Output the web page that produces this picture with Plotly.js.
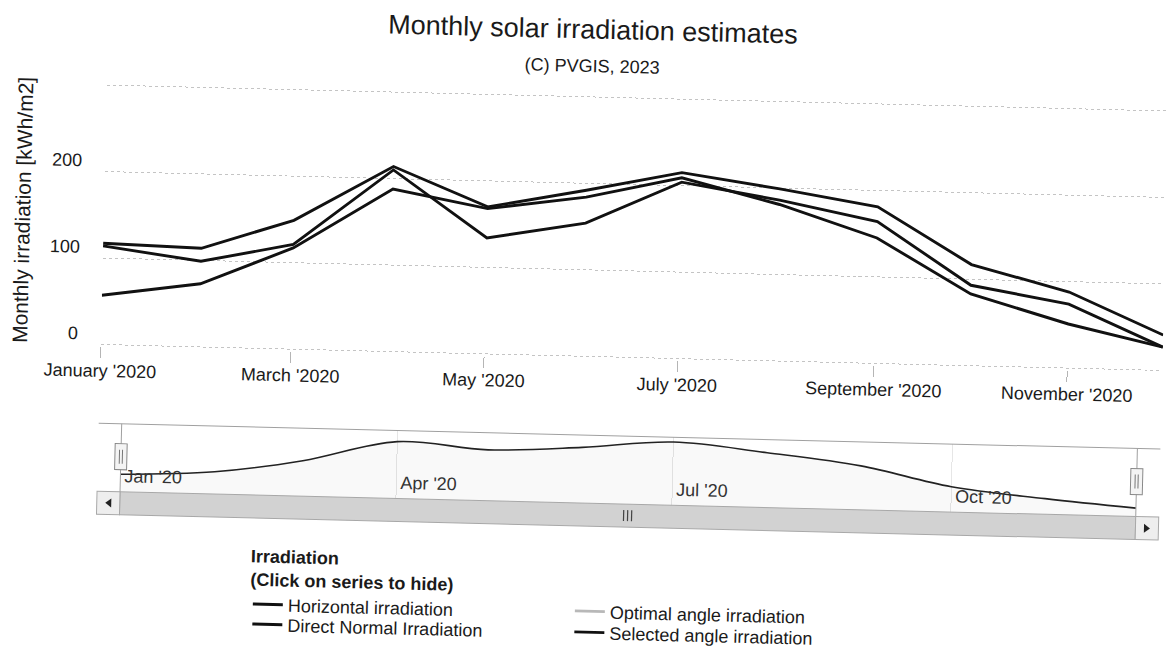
<!DOCTYPE html>
<html>
<head>
<meta charset="utf-8">
<script src="https://cdn.plot.ly/plotly-3.0.1.min.js"></script>
<style>
  html, body { margin:0; padding:0; background:#ffffff; overflow:hidden; }
  #chart { width:1169px; height:671px; transform: rotate(1.4deg); transform-origin: 584px 335px; }
</style>
</head>
<body>
<div id="chart"></div>
<script>
// ---- data ----
const months = ['2020-01-01','2020-02-01','2020-03-01','2020-04-01','2020-05-01','2020-06-01',
                '2020-07-01','2020-08-01','2020-09-01','2020-10-01','2020-11-01','2020-12-01'];
const horizontalIrradiation   = [57, 73, 117, 188, 168, 184, 209, 181, 145, 83, 51, 27];
const directNormalIrradiation = [114, 99, 121, 210, 134, 154, 204, 186, 164, 93, 74, 27];
const optimalAngleIrradiation = [null, null, null, null, null, null, null, null, null, null, null, null];
const selectedAngleIrradiation= [117, 114, 149, 214, 170, 192, 215, 199, 181, 117, 88, 41];
const yTickVals = [0, 100, 200, 300];
const yTickText = ['0', '100', '200', ''];
const seriesNames = ['Horizontal irradiation', 'Direct Normal Irradiation', 'Optimal angle irradiation', 'Selected angle irradiation'];
const legendTitle = '<b>Irradiation</b><br><b>(Click on series to hide)</b>';

// ---- geometry helpers (pixel -> paper) ----
const W = 1169, H = 671;
const px = x => x / W;
const py = y => 1 - y / H;

const lineStyle = {color:'#111111', width:2.9};

const traces = [
  {x: months, y: horizontalIrradiation, name: seriesNames[0], type:'scatter', mode:'lines', line: lineStyle, legend:'legend', xaxis:'x', yaxis:'y'},
  {x: months, y: directNormalIrradiation, name: seriesNames[1], type:'scatter', mode:'lines', line: lineStyle, legend:'legend2', xaxis:'x', yaxis:'y'},
  {x: months, y: optimalAngleIrradiation, name: seriesNames[2], type:'scatter', mode:'lines', line: {color:'#b8b8b8', width:2.8}, legend:'legend3', xaxis:'x', yaxis:'y'},
  {x: months, y: selectedAngleIrradiation, name: seriesNames[3], type:'scatter', mode:'lines', line: lineStyle, legend:'legend4', xaxis:'x', yaxis:'y'},
  // navigator series
  {x: months, y: horizontalIrradiation, type:'scatter', mode:'lines', line:{color:'#222222', width:1.6, shape:'spline', smoothing:1},
   fill:'tozeroy', fillcolor:'rgba(0,0,0,0.025)', showlegend:false, xaxis:'x2', yaxis:'y2', hoverinfo:'skip'}
];

function pathStr(points){
  return 'M' + points.map(p => px(p[0]) + ',' + py(p[1])).join(' L') + ' Z';
}

const grey = '#a0a0a0';
const shapes = [
  // outline
  {type:'line', xref:'paper', yref:'paper', x0:px(101), x1:px(1163), y0:py(435), y1:py(435), line:{color:grey, width:1}},
  {type:'line', xref:'paper', yref:'paper', x0:px(124), x1:px(124), y0:py(435), y1:py(503), line:{color:grey, width:1}},
  {type:'line', xref:'paper', yref:'paper', x0:px(1140), x1:px(1140), y0:py(435), y1:py(503), line:{color:grey, width:1}},
  // handles
  {type:'rect', xref:'paper', yref:'paper', x0:px(118), x1:px(130), y0:py(481), y1:py(455), fillcolor:'#f4f4f4', line:{color:'#888888', width:1}},
  {type:'line', xref:'paper', yref:'paper', x0:px(122.5), x1:px(122.5), y0:py(475), y1:py(461), line:{color:'#777777', width:1}},
  {type:'line', xref:'paper', yref:'paper', x0:px(125.5), x1:px(125.5), y0:py(475), y1:py(461), line:{color:'#777777', width:1}},
  {type:'rect', xref:'paper', yref:'paper', x0:px(1134), x1:px(1146), y0:py(481), y1:py(455), fillcolor:'#f4f4f4', line:{color:'#888888', width:1}},
  {type:'line', xref:'paper', yref:'paper', x0:px(1138.5), x1:px(1138.5), y0:py(475), y1:py(461), line:{color:'#777777', width:1}},
  {type:'line', xref:'paper', yref:'paper', x0:px(1141.5), x1:px(1141.5), y0:py(475), y1:py(461), line:{color:'#777777', width:1}},
  // scrollbar thumb + buttons
  {type:'rect', xref:'paper', yref:'paper', x0:px(124), x1:px(1140), y0:py(526), y1:py(503), fillcolor:'#d2d2d2', line:{color:'#a8a8a8', width:1}},
  {type:'rect', xref:'paper', yref:'paper', x0:px(101), x1:px(124), y0:py(526), y1:py(503), fillcolor:'#eeeeee', line:{color:'#a8a8a8', width:1}},
  {type:'rect', xref:'paper', yref:'paper', x0:px(1140), x1:px(1163), y0:py(526), y1:py(503), fillcolor:'#eeeeee', line:{color:'#a8a8a8', width:1}},
  {type:'path', xref:'paper', yref:'paper', path: pathStr([[115.5,510],[109.5,514.5],[115.5,519]]), fillcolor:'#222222', line:{width:0}},
  {type:'path', xref:'paper', yref:'paper', path: pathStr([[1148.5,510],[1154.5,514.5],[1148.5,519]]), fillcolor:'#222222', line:{width:0}},
  // grip
  {type:'line', xref:'paper', yref:'paper', x0:px(628), x1:px(628), y0:py(520), y1:py(509), line:{color:'#444444', width:1.2}},
  {type:'line', xref:'paper', yref:'paper', x0:px(632), x1:px(632), y0:py(520), y1:py(509), line:{color:'#444444', width:1.2}},
  {type:'line', xref:'paper', yref:'paper', x0:px(636), x1:px(636), y0:py(520), y1:py(509), line:{color:'#444444', width:1.2}}
];

const fontFamily = 'Liberation Sans, Arial, Helvetica, sans-serif';
const legendFont = {size:18, color:'#1a1a1a'};
function legendAt(x, y, extra){
  return Object.assign({x:px(x), y:py(y), xanchor:'left', yanchor:'top', orientation:'v', bgcolor:'rgba(0,0,0,0)',
                        font:legendFont, tracegroupgap:0}, extra || {});
}

const layout = {
  width: W, height: H,
  margin: {l:0, r:0, t:0, b:0},
  paper_bgcolor: '#ffffff', plot_bgcolor: 'rgba(0,0,0,0)',
  font: {family: fontFamily, color: '#1a1a1a'},
  title: {text: 'Monthly solar irradiation estimates', font: {size: 27, color: '#1a1a1a'},
          x: px(585.5), xanchor: 'center', xref: 'paper', y: py(29), yanchor: 'middle', yref: 'container'},
  xaxis: {type:'date', domain:[px(101), px(1163)], range:[months[0], months[11]], anchor:'y',
          tickformat:"%B '%Y", dtick:'M2', tick0: months[0],
          ticks:'outside', ticklen:11, tickcolor:'#b5b5b5', tickwidth:1,
          showgrid:false, showline:false, zeroline:false, tickfont:{size:18, color:'#1a1a1a'},
          ticklabelstandoff: -3, fixedrange:true},
  yaxis: {domain:[py(358.03), py(95.07)], range:[-2, 302], anchor:'x',
          tickmode:'array', tickvals: yTickVals, ticktext: yTickText,
          showgrid:true, gridcolor:'#c4c4c4', griddash:'dot', gridwidth:1, zeroline:false, showline:false,
          ticks:'', tickfont:{size:18, color:'#1a1a1a'}, ticklabelstandoff: 22, ticklabelshift: -11, fixedrange:true},
  xaxis2: {type:'date', domain:[px(124), px(1140)], range:[months[0], months[11]], anchor:'y2',
           tickformat:"%b '%y", dtick:'M3', tick0: months[0], ticklabelposition:'inside right', ticklabelshift: 4,
           ticks:'', showgrid:true, gridcolor:'#e6e6e6', showline:false, zeroline:false,
           tickfont:{size:18, color:'#333333'}, fixedrange:true},
  yaxis2: {domain:[py(503), py(435)], range:[-1, 225], anchor:'x2', showgrid:false, zeroline:false,
           showticklabels:false, ticks:'', fixedrange:true},
  annotations: [
    {text:'(C) PVGIS, 2023', xref:'paper', yref:'paper', x:px(585.4), y:py(66), xanchor:'center', yanchor:'middle',
     showarrow:false, font:{size:18, color:'#1a1a1a'}},
    {text:'Monthly irradiation [kWh/m2]', xref:'paper', yref:'paper', x:px(20), y:py(223.7), xanchor:'center', yanchor:'middle',
     textangle:-90, showarrow:false, font:{size:21, color:'#1a1a1a'}}
  ],
  shapes: shapes,
  legend:  legendAt(254.5, 547, {title:{text: legendTitle, font:{size:18, color:'#1a1a1a'}}}),
  legend2: legendAt(254.5, 613.8),
  legend3: legendAt(576.6, 592.8),
  legend4: legendAt(576.6, 613.8),
  hovermode: false
};

Plotly.newPlot('chart', traces, layout, {displayModeBar:false, staticPlot:true});
</script>
</body>
</html>
